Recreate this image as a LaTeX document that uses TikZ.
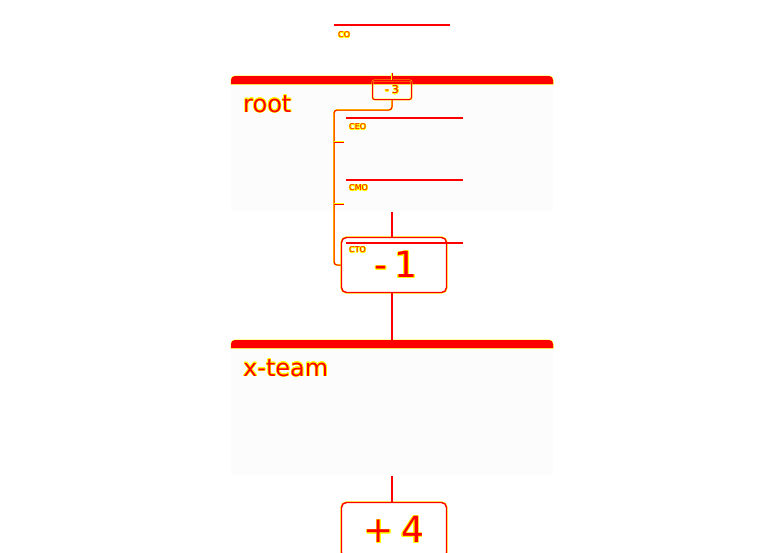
\documentclass[tikz,border=0pt]{standalone}
\usepackage{fontspec}
\setmainfont{DejaVu Sans}
\usepackage{contour}
\contourlength{0.6pt}
\contournumber{16}
\definecolor{panelbg}{HTML}{FCFCFC}
\definecolor{halo}{HTML}{FFFF00}
\newcommand{\hl}[1]{\contour{halo}{#1}}
\newcommand{\tightgap}[1]{\spaceskip=#1\relax}
\begin{document}
\begin{tikzpicture}[x=1pt,y=-1pt,
  ln/.style={draw=red, line width=1.4pt, preaction={draw=halo, line width=2.4pt}},
  thinln/.style={draw=red, line width=1pt, preaction={draw=halo, line width=1.8pt}},
  bigbox/.style={draw=red, line width=1.4pt, preaction={draw=halo, line width=2.4pt}, rounded corners=5pt, fill=white,
     minimum width=105pt, minimum height=55pt, inner sep=0pt, text=red,
     font=\fontsize{36}{36}\selectfont},
  smallbox/.style={draw=red, line width=1pt, preaction={draw=halo, line width=1.8pt}, rounded corners=2pt,
     minimum width=39pt, minimum height=19pt, inner sep=0pt, text=red, font=\fontsize{11}{11}\selectfont},
  role/.style={text=red, font=\fontsize{8}{8}\selectfont, inner sep=0pt, anchor=west},
  title/.style={text=red, font=\fontsize{24}{24}\selectfont, inner sep=0pt, anchor=base west}]
\useasboundingbox (0,0) rectangle (784,552);
\fill[white] (0,0) rectangle (784,552);
% top label
\draw[ln, line width=2pt] (334,25) -- (450,25);
\node[role] (co) at (338,35) {\hl{CO}};
% root panel
\fill[panelbg, rounded corners=4pt] (231,78) rectangle (553,211);
\fill[red, preaction={draw=halo, line width=1pt}] (231,84) {[rounded corners=4pt] -- (231,76) -- (553,76)} -- (553,84) -- cycle;
\node[title] (root) at (243,112) {\hl{root}};
% x-team panel
\fill[panelbg, rounded corners=4pt] (231,342) rectangle (553,475);
\fill[red, preaction={draw=halo, line width=1pt}] (231,348) {[rounded corners=4pt] -- (231,340) -- (553,340)} -- (553,348) -- cycle;
\node[title] (xteam) at (243,376) {\hl{x-team}};
% role lines
\draw[ln] (346,118) -- (463,118);
\node[role] (ceo) at (349,127) {\hl{CEO}};
\draw[ln] (346,180) -- (463,180);
\node[role] (cmo) at (349,188) {\hl{CMO}};
% boxes
\node[smallbox] (m3) at (392,90) {\tightgap{3pt}\hl{- 3}};
\node[bigbox] (m1) at (394,265) {\tightgap{7pt}\hspace{4pt}\hl{- 1}};
\node[bigbox] (p4) at (394,530) {\tightgap{7pt}\hl{+ 4}};
\draw[ln] (346,243) -- (463,243);
\node[role] (cto) at (349,250) {\hl{CTO}};
% coordinates
\coordinate (topdot) at (392,73);
\coordinate (rootbot) at (392,212);
\coordinate (xtop) at (392,340);
\coordinate (xbot) at (392,476);
\coordinate (bend) at (392,110);
\coordinate (t1) at (344,142);
\coordinate (t2) at (344,204);
% connectors
\draw[thinln] (topdot) -- (m3.north);
\draw[thinln, rounded corners=3pt] (m3.south) -- (bend) -- (334,110) -- (334,265) -- (m1.west);
\draw[thinln] (334,142) -- (t1);
\draw[thinln] (334,204) -- (t2);
\draw[ln] (rootbot) -- (m1.north -| rootbot);
\draw[ln] (m1.south -| rootbot) -- (xtop);
\draw[ln] (xbot) -- (p4.north -| xbot);
\end{tikzpicture}
\end{document}
